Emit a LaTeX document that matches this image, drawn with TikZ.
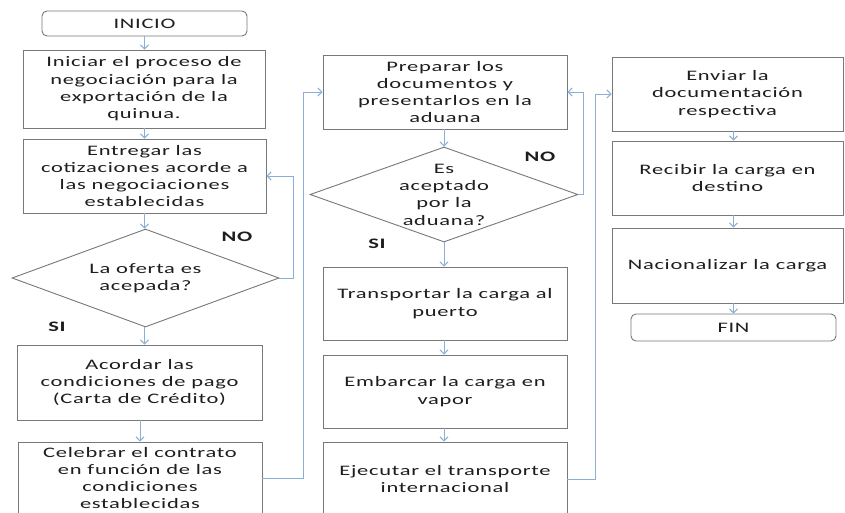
\documentclass[tikz,border=0pt]{standalone}
\usepackage{fontspec}
\setmainfont{Carlito}[FakeStretch=1.55, LetterSpace=5]
\usetikzlibrary{arrows.meta,shapes.geometric}
\definecolor{boxgray}{RGB}{120,120,120}
\definecolor{flowblue}{RGB}{140,175,215}
\definecolor{ink}{RGB}{30,30,30}
\begin{document}
\begin{tikzpicture}[x=1pt,y=-1pt,
  txt/.style={font=\fontsize{14.5}{17.3}\selectfont, text=ink, align=center},
  stepbox/.style={txt, draw=boxgray, line width=0.9pt, inner sep=0pt, minimum width=#1},
  stepbox/.default=243pt,
  endbox/.style={txt, draw=boxgray, line width=0.9pt, rounded corners=5pt, inner sep=0pt, minimum width=205pt},
  decide/.style={draw=boxgray, line width=0.9pt, diamond, inner sep=0pt},
  arr/.style={draw=flowblue, line width=1pt, -{Straight Barb[length=4pt,width=8pt]}},
  lbl/.style={txt, font=\fontsize{14.5}{17.3}\selectfont\bfseries}
]
\useasboundingbox (0,0) rectangle (845,512);
\fill[white] (0,0) rectangle (845,512);

% left column
\node[endbox, minimum height=25pt] (ini) at (144.5,23.5) {INICIO};
\node[stepbox=242pt, minimum height=78pt] (b1) at (144,89) {Iniciar el proceso de\\negociación para la\\exportación de la\\quinua.};
\node[stepbox=243pt, minimum height=74pt] (b2) at (144.5,176) {Entregar las\\cotizaciones acorde a\\las negociaciones\\establecidas};
\node[decide, minimum width=267pt, minimum height=98pt] (d1) at (145.5,278) {};
\node[txt] (d1t) at (d1.center) {La oferta es\\acepada?};
\node[stepbox=245pt, minimum height=75pt] (b3) at (139.5,382.5) {Acordar las\\condiciones de pago\\(Carta de Crédito)};
\node[stepbox=244pt, minimum height=72pt] (b4) at (140,478) {Celebrar el contrato\\en función de las\\condiciones\\establecidas};

% middle column
\node[stepbox=244pt, minimum height=74pt] (b5) at (445,92) {Preparar los\\documentos y\\presentarlos en la\\aduana};
\node[decide, minimum width=268pt, minimum height=95pt] (d2) at (444,194.5) {};
\node[txt] (d2t) at (d2.center) {Es\\aceptado\\por la\\aduana?};
\node[stepbox=244pt, minimum height=73pt] (b6) at (445,303.5) {Transportar la carga al\\puerto};
\node[stepbox=244pt, minimum height=73pt] (b7) at (445,391.5) {Embarcar la carga en\\vapor};
\node[stepbox=244pt, minimum height=74pt] (b8) at (445,479) {Ejecutar el transporte\\internacional};

% right column
\node[stepbox=231pt, minimum height=74pt] (b9) at (727.5,94) {Enviar la\\documentación\\respectiva};
\node[stepbox=231pt, minimum height=74pt] (b10) at (727.5,178) {Recibir la carga en\\destino};
\node[stepbox=231pt, minimum height=75pt] (b11) at (727.5,265.5) {Nacionalizar la carga};
\node[endbox, minimum height=27pt] (fin) at (733.5,327.5) {FIN};

% branch labels
\node[lbl] (no1) at (237,237) {NO};
\node[lbl] (si1) at (57,327) {SI};
\node[lbl] (no2) at (540,157) {NO};
\node[lbl] (si2) at (377,244) {SI};

% straight flow
\draw[arr] (ini.south) -- (ini.south |- b1.north);
\draw[arr] (b1.south -| ini.south) -- (b2.north -| ini.south);
\draw[arr] (b2.south -| ini.south) -- (d1.north -| ini.south);
\draw[arr] (d1.south -| ini.south) -- (b3.north -| ini.south);
\draw[arr] (b3.south -| b4.north) -- (b4.north);
\draw[arr] (b5.south -| d2.north) -- (d2.north);
\draw[arr] (d2.south) -- (d2.south |- b6.north);
\draw[arr] (b6.south -| d2.south) -- (b7.north -| d2.south);
\draw[arr] (b7.south -| d2.south) -- (b8.north -| d2.south);
\draw[arr] (b9.south -| fin.north) -- (b10.north -| fin.north);
\draw[arr] (b10.south -| fin.north) -- (b11.north -| fin.north);
\draw[arr] (b11.south -| fin.north) -- (fin.north);

% loops and column transfers
\draw[arr] (d1.east) -- ++(14,0) |- (b2.east);
\draw[arr] (d2.east) -- ++(5,0) |- (b5.east);
\draw[arr] (b4.east) -- ++(41,0) |- (b5.west);
\draw[arr] (b8.east) -- ++(28,0) |- (b9.west);
\end{tikzpicture}
\end{document}
